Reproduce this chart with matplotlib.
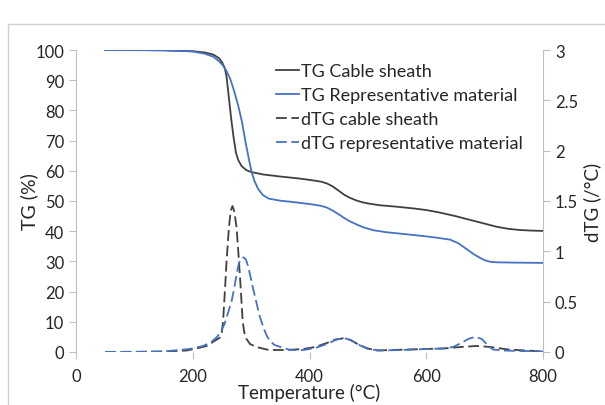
import matplotlib.pyplot as plt
from matplotlib.patches import Rectangle

plt.rcParams['font.family'] = ['Lato', 'DejaVu Sans']

# TG curves (%)
temp_tg_cable = [50, 100, 150, 200, 220, 235, 245, 250, 255, 258, 262, 266, 270, 274, 278,
                 284, 292, 300, 310, 320, 350, 380, 400, 420, 430, 440, 450, 460, 470, 480,
                 490, 500, 520, 550, 580, 600, 620, 650, 680, 700, 720, 740, 760, 780, 800]
tg_cable = [100, 100, 99.9, 99.6, 99.2, 98.5, 97.3, 96, 94, 91, 84, 77, 71, 66, 63.5,
            61.5, 60.2, 59.6, 59.2, 58.8, 58.1, 57.5, 57, 56.4, 55.8, 54.8, 53.4, 52, 51, 50.2,
            49.6, 49.2, 48.6, 48.1, 47.5, 47, 46.3, 45, 43.5, 42.5, 41.5, 40.8, 40.4, 40.2, 40.1]

temp_tg_rep = [50, 150, 200, 220, 235, 245, 252, 258, 264, 270, 278, 284, 290, 296, 301,
               306, 312, 320, 330, 350, 370, 400, 420, 430, 440, 450, 460, 470, 480, 492,
               510, 530, 560, 595, 620, 641, 655, 669, 682, 692, 700, 709, 720, 750, 800]
tg_rep = [100, 99.9, 99.5, 98.8, 97.8, 96.3, 94.8, 93, 90.5, 87, 81.5, 76.5, 70, 64, 59.5,
          56.5, 54, 52, 50.8, 50.1, 49.7, 49, 48.4, 47.8, 46.8, 45.6, 44.3, 43.2, 42.3, 41.3,
          40.3, 39.7, 39.1, 38.4, 37.8, 37.2, 36, 34.1, 32.3, 31.2, 30.4, 29.9, 29.7, 29.6, 29.5]

# dTG curves (/°C)
temp_dtg_cable = [50, 100, 150, 190, 210, 224, 232, 240, 246, 250, 252, 255, 258, 262, 265,
                  268, 271, 275, 278, 281, 283.5, 285.5, 288, 292, 298, 309, 330, 360, 390,
                  410, 430, 445, 458, 470, 485, 500, 515, 540, 570, 600, 630, 660, 686, 710,
                  740, 770, 800]
dtg_cable = [0, 0, 0.005, 0.015, 0.04, 0.06, 0.09, 0.12, 0.14, 0.2, 0.31, 0.6, 0.91, 1.24, 1.40,
             1.45, 1.40, 1.24, 1.0, 0.74, 0.5, 0.31, 0.2, 0.13, 0.08, 0.05, 0.02, 0.02, 0.03,
             0.05, 0.09, 0.125, 0.136, 0.12, 0.07, 0.035, 0.015, 0.02, 0.025, 0.03, 0.035, 0.05, 0.06, 0.05,
             0.025, 0.015, 0.005]

temp_dtg_rep = [50, 150, 195, 218, 232, 241, 248, 254.6, 260, 266.7, 271, 275, 279, 283, 287,
                291, 295, 298, 303, 309.5, 315, 321, 326, 332, 340, 350, 367, 390, 410, 430,
                445, 458, 470, 485, 500, 520, 560, 600, 630, 646, 660, 672, 684, 695, 705,
                714, 730, 760, 800]
dtg_rep = [0, 0.005, 0.03, 0.06, 0.1, 0.146, 0.2, 0.28, 0.38, 0.51, 0.63, 0.77, 0.88, 0.93, 0.94,
           0.92, 0.85, 0.77, 0.64, 0.48, 0.35, 0.245, 0.17, 0.11, 0.07, 0.05, 0.02, 0.02, 0.04, 0.08,
           0.12, 0.14, 0.12, 0.07, 0.03, 0.015, 0.02, 0.03, 0.035, 0.05, 0.09, 0.13, 0.15, 0.13, 0.07,
           0.025, 0.015, 0.01, 0.005]

gray = '#404040'
blue = '#4472C4'
axis_col = '#BFBFBF'
text_col = '#262626'

fig = plt.figure(figsize=(6.05, 4.06), dpi=100)
ax = fig.add_axes([76 / 605, 1 - 353 / 406, (543 - 76) / 605, (353 - 51) / 406])
ax2 = ax.twinx()

# chart border (Excel style, partly cropped)
fig.patches.append(Rectangle((8 / 605, -0.1), 1.2, 1 - 25 / 406 + 0.1, transform=fig.transFigure,
                             fill=False, edgecolor='#D0D0D0', linewidth=1))

l1, = ax.plot(temp_tg_cable, tg_cable, color=gray, lw=1.3, label='TG Cable sheath')
l2, = ax.plot(temp_tg_rep, tg_rep, color=blue, lw=1.3, label='TG Representative material')
l3, = ax2.plot(temp_dtg_cable, dtg_cable, color=gray, lw=1.3, ls=(0, (6, 2.5)), label='dTG cable sheath')
l4, = ax2.plot(temp_dtg_rep, dtg_rep, color=blue, lw=1.3, ls=(0, (6, 2.5)), label='dTG representative material')

ax.set_xlim(0, 800)
ax.set_ylim(0, 100)
ax2.set_ylim(0, 3)
ax.set_xticks([0, 200, 400, 600, 800])
ax.set_yticks(range(0, 101, 10))
ax2.set_yticks([0, 0.5, 1, 1.5, 2, 2.5, 3])
ax2.set_yticklabels(['0', '0.5', '1', '1.5', '2', '2.5', '3'])

for a in (ax, ax2):
    for s in ('top', 'bottom'):
        a.spines[s].set_visible(False)
    a.spines['left'].set_color(axis_col)
    a.spines['right'].set_color(axis_col)
    a.tick_params(colors=axis_col, labelcolor=text_col, labelsize=12, length=5, width=0.8)
ax.spines['right'].set_visible(False)
ax2.spines['left'].set_visible(False)
ax.tick_params(axis='x', pad=6.5)

ax.set_xlabel('Temperature (°C)', fontsize=13.5, color=text_col, labelpad=-1)
ax.set_ylabel('TG (%)', fontsize=14, color=text_col, labelpad=-2)
ax2.set_ylabel('dTG (/°C)', fontsize=13.5, color=text_col, labelpad=4)

fig.legend(handles=[l1, l2, l3, l4], loc='upper left', bbox_to_anchor=(276 / 605, 1 - 64 / 406),
           frameon=False, fontsize=13, handlelength=1.3, handletextpad=0.1,
           labelspacing=0.45, borderaxespad=0, borderpad=0, labelcolor=text_col)

fig.savefig('out.png', dpi=100)
